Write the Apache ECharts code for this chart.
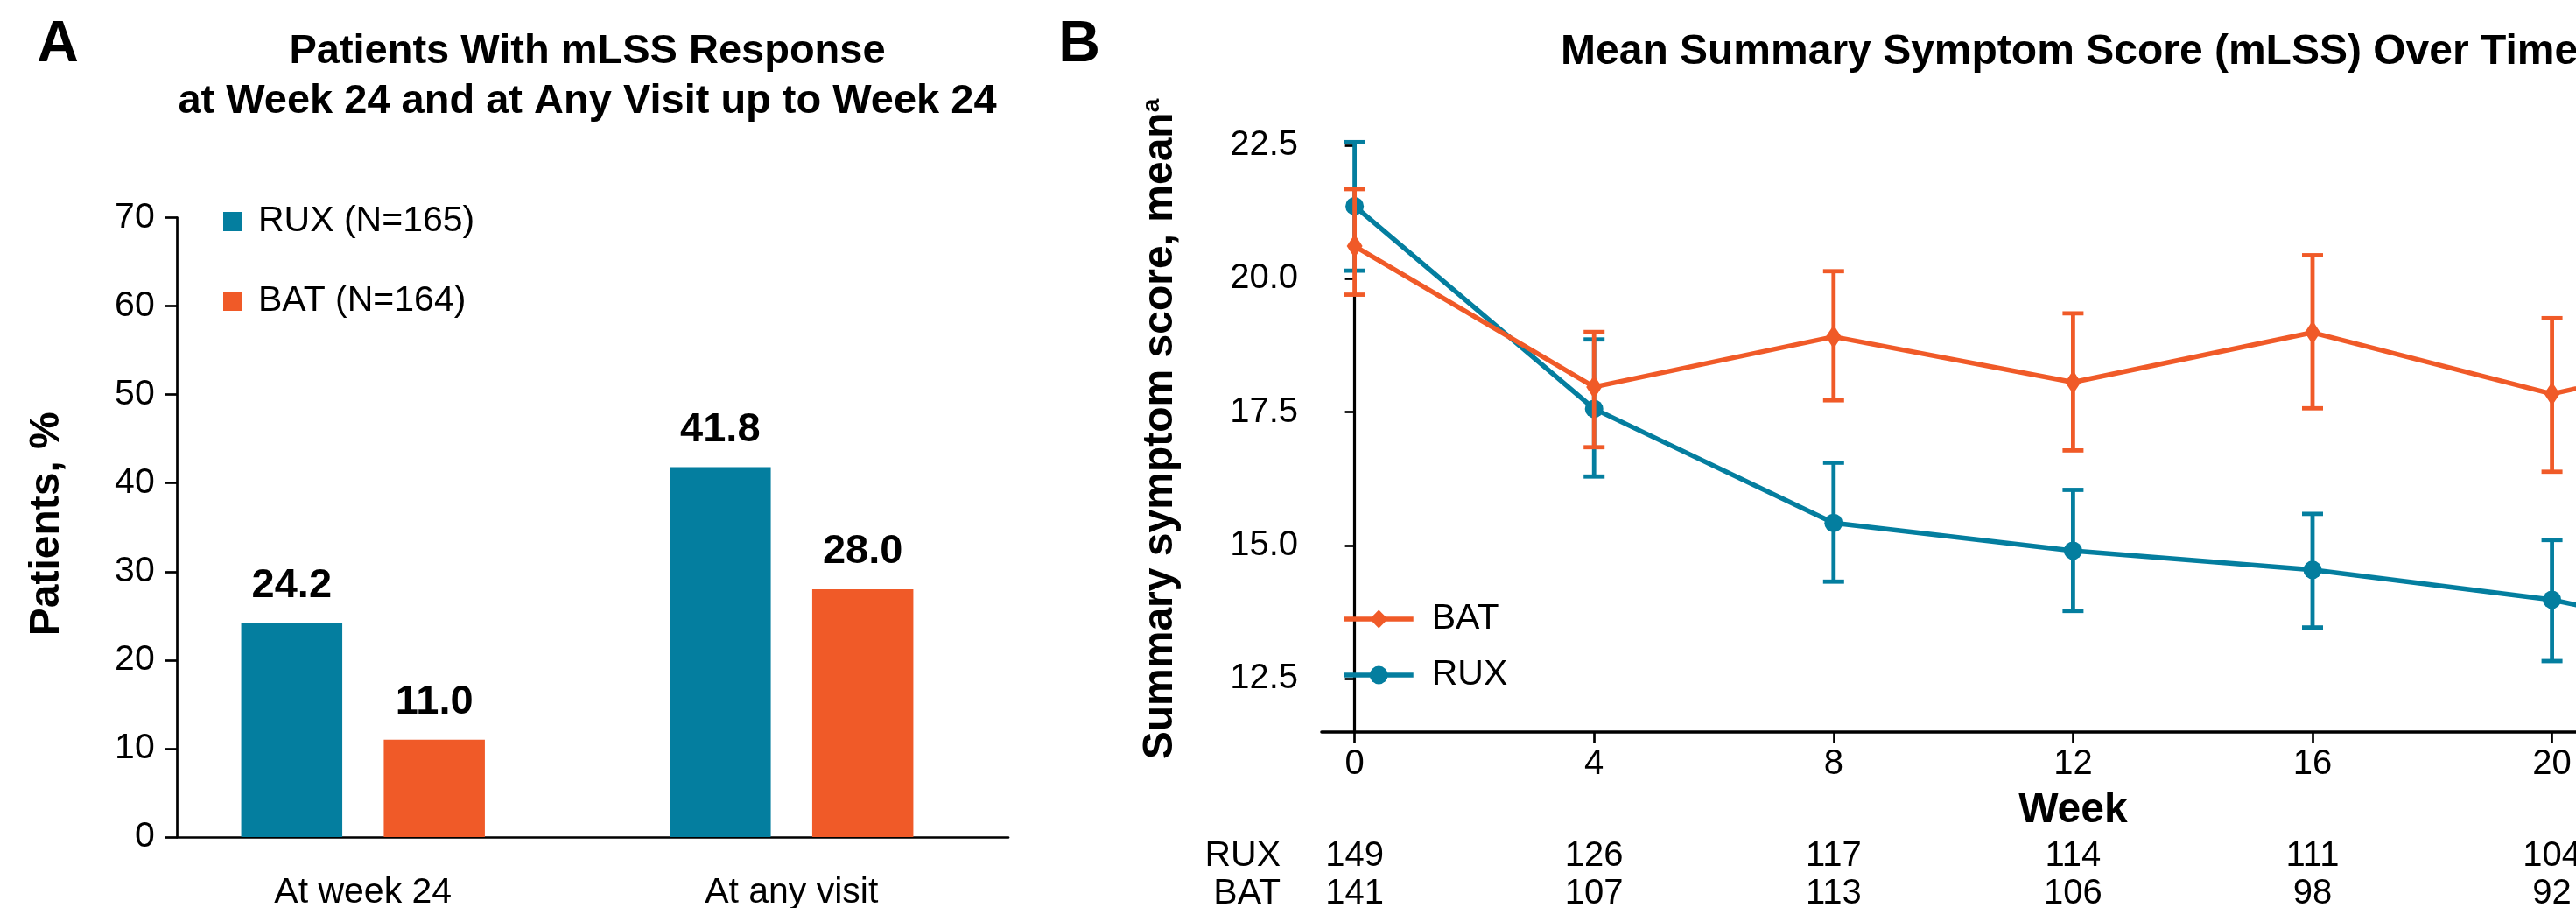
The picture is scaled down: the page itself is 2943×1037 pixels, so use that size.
<!DOCTYPE html>
<html>
<head>
<meta charset="utf-8">
<title>mLSS response and mean symptom score</title>
<script src="https://cdn.jsdelivr.net/npm/echarts@6/dist/echarts.min.js"></script>
<style>
  html, body { margin: 0; padding: 0; background: #fff; }
  #chart { width: 2943px; height: 1037px; }
</style>
</head>
<body>
<div id="chart"></div>
<script>
// panel A: responders
const responseCats = ['At week 24', 'At any visit']
const ruxResponse = [24.2, 41.8]
const batResponse = [11.0, 28.0]

// panel B: mean mLSS over time (week 24 only as the line runs off the right edge)
const weeks = [0, 4, 8, 12, 16, 20, 24]
const ruxMean = [21.36, 17.56, 15.42, 14.9, 14.54, 13.98, 13.03]
const ruxLow = [20.15, 16.29, 14.32, 13.77, 13.46, 12.83]
const ruxHigh = [22.56, 18.86, 16.55, 16.04, 15.59, 15.1]
const batMean = [20.61, 17.97, 18.91, 18.06, 18.99, 17.84, 18.84]
const batLow = [19.7, 16.84, 17.72, 16.78, 17.57, 16.38]
const batHigh = [21.68, 19.0, 20.14, 19.35, 20.44, 19.26]
const ruxN = [149, 126, 117, 114, 111, 104]
const batN = [141, 107, 113, 106, 98, 92]
const scoreTicks = [12.5, 15, 17.5, 20, 22.5]
const weekTicks = [0, 4, 8, 12, 16, 20, 24]

const RUX_COLOR = '#047e9f'
const BAT_COLOR = '#f05a28'
const FONT = "'Liberation Sans', Arial, Helvetica, sans-serif"

let chart = echarts.init(document.getElementById('chart'), null, { renderer: 'canvas' })

function errorBars(color) {
  return function (params, api) {
    const x = api.value(0)
    const lo = api.coord([x, api.value(1)])
    const hi = api.coord([x, api.value(2)])
    const w = 12
    const style = { stroke: color, lineWidth: 4.8 }
    return {
      type: 'group',
      children: [
        { type: 'line', shape: { x1: lo[0], y1: lo[1], x2: hi[0], y2: hi[1] }, style },
        { type: 'line', shape: { x1: lo[0] - w, y1: lo[1], x2: lo[0] + w, y2: lo[1] }, style },
        { type: 'line', shape: { x1: hi[0] - w, y1: hi[1], x2: hi[0] + w, y2: hi[1] }, style },
      ],
    }
  }
}

function countLabel(list) {
  return function (v) {
    const i = weeks.indexOf(v)
    return i >= 0 && list[i] != null ? String(list[i]) : ''
  }
}

const hidden = { show: false }
const blackLine = (w) => ({ show: true, lineStyle: { color: '#000', width: w } })

let option = {
  backgroundColor: '#fff',
  textStyle: { fontFamily: FONT, color: '#000' },
  animation: false,
  graphic: [
    { type: 'text', x: 66, y: 52, style: { text: 'A', font: 'bold 66px ' + FONT, fill: '#000', align: 'center', verticalAlign: 'middle' } },
    { type: 'text', x: 1233, y: 52, style: { text: 'B', font: 'bold 66px ' + FONT, fill: '#000', align: 'center', verticalAlign: 'middle' } },
    { type: 'text', x: 671, y: 59, style: { text: 'Patients With mLSS Response', font: 'bold 47px ' + FONT, fill: '#000', align: 'center', verticalAlign: 'middle' } },
    { type: 'text', x: 671, y: 116, style: { text: 'at Week 24 and at Any Visit up to Week 24', font: 'bold 47px ' + FONT, fill: '#000', align: 'center', verticalAlign: 'middle' } },
    { type: 'text', x: 1783, y: 60, style: { text: 'Mean Summary Symptom Score (mLSS) Over Time', font: 'bold 48px ' + FONT, fill: '#000', align: 'left', verticalAlign: 'middle' } },
  ],
  legend: [
    {
      data: ['RUX (N=165)', 'BAT (N=164)'],
      orient: 'vertical',
      left: 255,
      top: 230,
      padding: 0,
      icon: 'rect',
      itemWidth: 22,
      itemHeight: 22,
      itemGap: 45,
      textStyle: { fontSize: 41, lineHeight: 46, color: '#000', fontFamily: FONT, padding: [0, 0, 0, 13] },
    },
    {
      data: ['BAT', 'RUX'],
      orient: 'vertical',
      left: 1533,
      top: 685,
      padding: 0,
      itemWidth: 79,
      itemHeight: 26,
      itemGap: 20,
      lineStyle: { width: 5.5 },
      textStyle: { fontSize: 41, lineHeight: 44, color: '#000', fontFamily: FONT, padding: [0, 0, 0, 16] },
    },
  ],
  grid: [
    { left: 170, top: 248.5, width: 979, height: 707.5, containLabel: false, outerBoundsMode: 'none' },
    { left: 202.7, top: 248.5, width: 949.3, height: 707.5, containLabel: false, outerBoundsMode: 'none' },
    { left: 1510, top: 166, width: 1716.8, height: 670, containLabel: false, outerBoundsMode: 'none' },
  ],
  xAxis: [
    {
      gridIndex: 0,
      type: 'category',
      data: responseCats,
      axisLine: hidden,
      axisTick: hidden,
      splitLine: hidden,
      axisLabel: { fontSize: 41, lineHeight: 41, color: '#000', margin: 43, fontFamily: FONT },
    },
    {
      gridIndex: 1,
      type: 'value',
      min: 0,
      max: 1,
      axisLine: blackLine(2.7),
      axisTick: hidden,
      axisLabel: hidden,
      splitLine: hidden,
    },
    {
      gridIndex: 2,
      type: 'value',
      min: -0.55,
      max: 24.55,
      axisLine: blackLine(3.6),
      axisTick: { show: true, length: 13, lineStyle: { color: '#000', width: 2.7 }, customValues: weekTicks },
      axisLabel: { fontSize: 40, lineHeight: 40, color: '#000', margin: 17, fontFamily: FONT, customValues: weekTicks },
      splitLine: hidden,
      name: 'Week',
      nameLocation: 'middle',
      nameGap: 66,
      nameTextStyle: { fontSize: 48, lineHeight: 48, fontWeight: 'bold', color: '#000', fontFamily: FONT },
    },
    {
      gridIndex: 2,
      type: 'value',
      position: 'bottom',
      offset: 141.5,
      min: -0.55,
      max: 24.55,
      axisLine: hidden,
      axisTick: hidden,
      splitLine: hidden,
      axisLabel: { fontSize: 40, lineHeight: 40, color: '#000', margin: 0, verticalAlign: 'middle', fontFamily: FONT, customValues: weekTicks, formatter: countLabel(ruxN) },
      name: 'RUX',
      nameLocation: 'start',
      nameGap: 47,
      nameTextStyle: { fontSize: 41, lineHeight: 41, color: '#000', fontFamily: FONT },
    },
    {
      gridIndex: 2,
      type: 'value',
      position: 'bottom',
      offset: 185,
      min: -0.55,
      max: 24.55,
      axisLine: hidden,
      axisTick: hidden,
      splitLine: hidden,
      axisLabel: { fontSize: 40, lineHeight: 40, color: '#000', margin: 0, verticalAlign: 'middle', fontFamily: FONT, customValues: weekTicks, formatter: countLabel(batN) },
      name: 'BAT',
      nameLocation: 'start',
      nameGap: 47,
      nameTextStyle: { fontSize: 41, lineHeight: 41, color: '#000', fontFamily: FONT },
    },
  ],
  yAxis: [
    {
      gridIndex: 0,
      type: 'value',
      min: 0,
      max: 70,
      show: false,
    },
    {
      gridIndex: 1,
      type: 'value',
      min: 0,
      max: 70,
      interval: 10,
      axisLine: blackLine(2.7),
      axisTick: { show: true, length: 14, lineStyle: { color: '#000', width: 2.7 } },
      axisLabel: { fontSize: 41, color: '#000', margin: 26, fontFamily: FONT },
      splitLine: hidden,
      name: 'Patients, %',
      nameLocation: 'middle',
      nameGap: 125,
      nameTextStyle: { fontSize: 48, lineHeight: 48, fontWeight: 'bold', color: '#000', fontFamily: FONT, padding: [0, 0, 0, 8] },
    },
    {
      gridIndex: 2,
      type: 'value',
      min: 11.5,
      max: 22.5,
      axisLine: blackLine(3.2),
      axisTick: { show: true, length: 11, lineStyle: { color: '#000', width: 2.7 }, customValues: scoreTicks },
      axisLabel: { fontSize: 40, color: '#000', margin: 27, fontFamily: FONT, customValues: scoreTicks, formatter: (v) => v.toFixed(1) },
      splitLine: hidden,
      name: 'Summary symptom score, mean{sup|a}',
      nameLocation: 'middle',
      nameGap: 160,
      nameTextStyle: {
        fontSize: 48,
        lineHeight: 48,
        fontWeight: 'bold',
        color: '#000',
        fontFamily: FONT,
        padding: [0, 0, 0, 22],
        rich: {
          sup: { fontSize: 28, lineHeight: 28, fontWeight: 'bold', color: '#000', fontFamily: FONT, verticalAlign: 'top' },
        },
      },
    },
  ],
  series: [
    {
      name: 'RUX (N=165)',
      type: 'bar',
      xAxisIndex: 0,
      yAxisIndex: 0,
      barWidth: 115.5,
      barGap: '41%',
      itemStyle: { color: RUX_COLOR },
      label: { show: true, position: 'top', distance: 19, fontSize: 47, lineHeight: 47, fontWeight: 'bold', color: '#000', fontFamily: FONT, formatter: (p) => p.value.toFixed(1) },
      data: ruxResponse,
    },
    {
      name: 'BAT (N=164)',
      type: 'bar',
      xAxisIndex: 0,
      yAxisIndex: 0,
      barWidth: 115.5,
      barGap: '41%',
      itemStyle: { color: BAT_COLOR },
      label: { show: true, position: 'top', distance: 19, fontSize: 47, lineHeight: 47, fontWeight: 'bold', color: '#000', fontFamily: FONT, formatter: (p) => p.value.toFixed(1) },
      data: batResponse,
    },
    {
      name: 'RUX error',
      type: 'custom',
      xAxisIndex: 2,
      yAxisIndex: 2,
      z: 2,
      renderItem: errorBars(RUX_COLOR),
      data: ruxLow.map((lo, i) => [weeks[i], lo, ruxHigh[i]]),
    },
    {
      name: 'RUX',
      type: 'line',
      xAxisIndex: 2,
      yAxisIndex: 2,
      z: 3,
      symbol: 'circle',
      symbolSize: 21,
      color: RUX_COLOR,
      lineStyle: { color: RUX_COLOR, width: 5.5 },
      itemStyle: { color: RUX_COLOR },
      data: weeks.map((w, i) => [w, ruxMean[i]]),
    },
    {
      name: 'BAT error',
      type: 'custom',
      xAxisIndex: 2,
      yAxisIndex: 2,
      z: 4,
      renderItem: errorBars(BAT_COLOR),
      data: batLow.map((lo, i) => [weeks[i], lo, batHigh[i]]),
    },
    {
      name: 'BAT',
      type: 'line',
      xAxisIndex: 2,
      yAxisIndex: 2,
      z: 5,
      symbol: 'diamond',
      symbolSize: [18, 27],
      color: BAT_COLOR,
      lineStyle: { color: BAT_COLOR, width: 5.5 },
      itemStyle: { color: BAT_COLOR },
      data: weeks.map((w, i) => [w, batMean[i]]),
    },
  ],
}

chart.setOption(option)
</script>
</body>
</html>
